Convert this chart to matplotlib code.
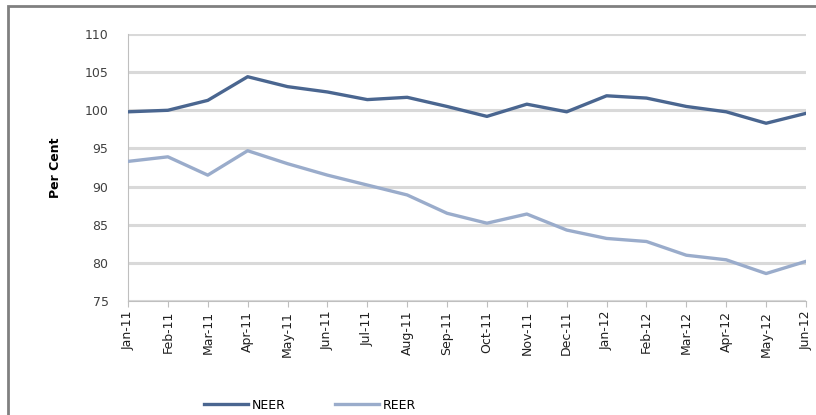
import matplotlib.pyplot as plt
from matplotlib.patches import Rectangle

months = ['Jan-11', 'Feb-11', 'Mar-11', 'Apr-11', 'May-11', 'Jun-11', 'Jul-11',
          'Aug-11', 'Sep-11', 'Oct-11', 'Nov-11', 'Dec-11', 'Jan-12', 'Feb-12',
          'Mar-12', 'Apr-12', 'May-12', 'Jun-12']
neer = [99.8, 100.0, 101.3, 104.4, 103.1, 102.4, 101.4, 101.7, 100.5,
        99.2, 100.8, 99.8, 101.9, 101.6, 100.5, 99.8, 98.3, 99.6]
reer = [93.3, 93.9, 91.5, 94.7, 93.0, 91.5, 90.2, 88.9, 86.5,
        85.2, 86.4, 84.3, 83.2, 82.8, 81.0, 80.4, 78.6, 80.2]
yticks = [75, 80, 85, 90, 95, 100, 105, 110]

fig = plt.figure(figsize=(8.16, 4.15), dpi=100)
ax = fig.add_axes([128/816, 1 - 301/415, (806 - 128)/816, (301 - 34)/415])

# outer chart frame
fig.patches.append(Rectangle((8/816, -0.05), 1.0, 1 - 6/415 + 0.05,
                             transform=fig.transFigure, fill=False,
                             edgecolor='#808080', linewidth=2, zorder=0))

x = list(range(len(months)))
ax.plot(x, neer, color='#4a6690', lw=2.4, label='NEER', zorder=3)
ax.plot(x, reer, color='#9aaccb', lw=2.4, label='REER', zorder=3)

ax.set_xlim(0, len(months) - 1)
ax.set_ylim(75, 110)
ax.set_yticks(yticks)
ax.set_yticklabels([str(v) for v in yticks], fontsize=9, color='#404040')
ax.set_xticks(x)
ax.set_xticklabels(months, rotation=90, fontsize=9, color='#202020')
ax.grid(axis='y', color='#d9d9d9', lw=2.2, zorder=0)
ax.tick_params(axis='y', length=0, pad=14)
ax.tick_params(axis='x', length=4, color='#bfbfbf', pad=3)

for s in ['top', 'right']:
    ax.spines[s].set_visible(False)
ax.spines['left'].set_color('#bfbfbf')
ax.spines['bottom'].set_color('#bfbfbf')

ax.set_ylabel('Per Cent', fontsize=9, fontweight='bold', labelpad=16)

fig.legend(loc='center', bbox_to_anchor=(0.38, 1 - 405/415), ncol=2,
           frameon=False, fontsize=9, handlelength=3.5, columnspacing=4,
           handletextpad=0.3)

fig.savefig('out.png', dpi=100)
